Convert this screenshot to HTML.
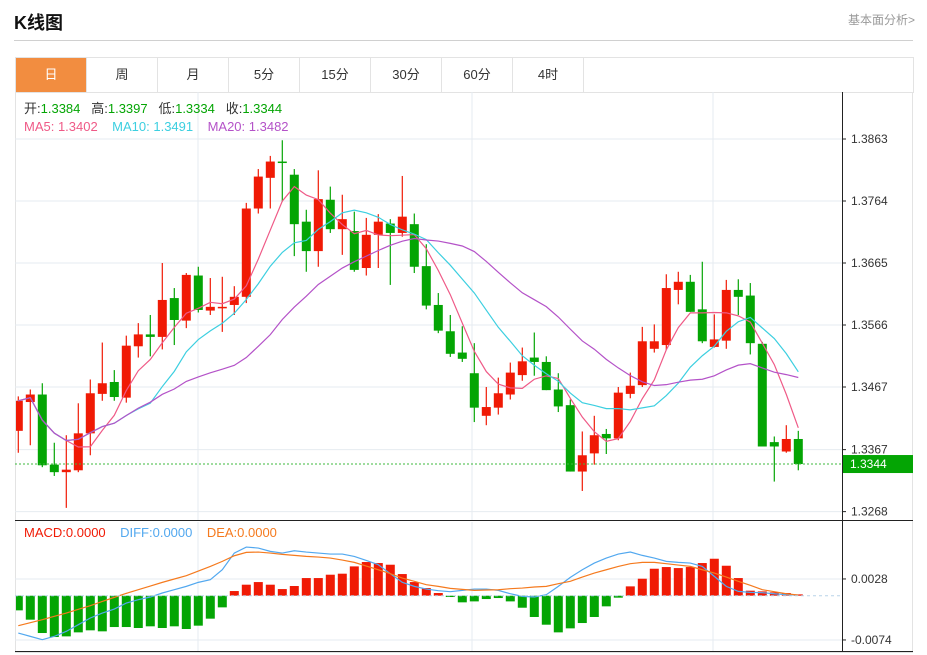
<!DOCTYPE html>
<html><head><meta charset="utf-8"><style>
html,body{margin:0;padding:0;background:#fff;width:927px;height:655px;overflow:hidden;font-family:"Liberation Sans","Noto Sans CJK SC",sans-serif}
.title{position:absolute;left:14px;top:9px;font-size:18px;font-weight:bold;color:#111}
.more{position:absolute;right:12px;top:11px;font-size:12px;color:#999}
.hr{position:absolute;left:14px;top:40px;width:899px;height:1px;background:#d0d0d0}
.tabs{position:absolute;left:15px;top:57px;width:897px;height:34px;border:1px solid #e3e3e3;display:flex}
.tab{width:70px;border-right:1px solid #e3e3e3;text-align:center;line-height:34px;font-size:13px;color:#333}
.tab.on{background:#f28d40;color:#fff}
svg{position:absolute;left:0;top:0}
svg text{white-space:pre}
</style></head><body>
<div class="title">K线图</div>
<div class="more">基本面分析&gt;</div>
<div class="hr"></div>
<div class="tabs">
<div class="tab on">日</div>
<div class="tab">周</div>
<div class="tab">月</div>
<div class="tab">5分</div>
<div class="tab">15分</div>
<div class="tab">30分</div>
<div class="tab">60分</div>
<div class="tab">4时</div>
</div>
<svg id="chart" width="927" height="655"><defs><clipPath id="plotclip"><rect x="16" y="92" width="826" height="560"/></clipPath></defs></svg>
<script>
const opens=[1.3397,1.3443,1.3455,1.3343,1.3331,1.3334,1.3393,1.3456,1.3475,1.3450,1.3532,1.3551,1.3547,1.3609,1.3573,1.3645,1.3589,1.3594,1.3598,1.3611,1.3752,1.3801,1.3827,1.3806,1.3731,1.3684,1.3766,1.3719,1.3716,1.3657,1.3710,1.3728,1.3713,1.3727,1.3660,1.3598,1.3556,1.3522,1.3489,1.3421,1.3434,1.3455,1.3486,1.3514,1.3507,1.3463,1.3438,1.3332,1.3361,1.3392,1.3385,1.3456,1.3470,1.3528,1.3534,1.3622,1.3635,1.3591,1.3531,1.3541,1.3622,1.3613,1.3536,1.3379,1.3364,1.3384];
const highs=[1.3452,1.3463,1.3473,1.3378,1.3390,1.3441,1.3479,1.3538,1.3494,1.3549,1.3569,1.3582,1.3665,1.3625,1.3649,1.3659,1.3641,1.3643,1.3628,1.3761,1.3815,1.3836,1.3861,1.3815,1.3750,1.3813,1.3787,1.3774,1.3747,1.3737,1.3743,1.3735,1.3804,1.3744,1.3695,1.3617,1.3582,1.3564,1.3537,1.3467,1.3482,1.3506,1.3530,1.3554,1.3516,1.3489,1.3447,1.3396,1.3421,1.3400,1.3467,1.3490,1.3563,1.3567,1.3647,1.3651,1.3646,1.3667,1.3583,1.3638,1.3639,1.3633,1.3539,1.3388,1.3406,1.3397];
const lows=[1.3362,1.3374,1.3339,1.3325,1.3274,1.3331,1.3358,1.3445,1.3445,1.3442,1.3514,1.3516,1.3527,1.3534,1.3561,1.3586,1.3582,1.3555,1.3582,1.3601,1.3744,1.3752,1.3763,1.3676,1.3651,1.3659,1.3713,1.3678,1.3651,1.3645,1.3657,1.3630,1.3707,1.3649,1.3591,1.3553,1.3515,1.3507,1.3411,1.3406,1.3423,1.3447,1.3477,1.3485,1.3462,1.3427,1.3332,1.3301,1.3343,1.3360,1.3382,1.3449,1.3467,1.3522,1.3526,1.3599,1.3587,1.3537,1.3530,1.3528,1.3582,1.3519,1.3372,1.3316,1.3362,1.3334];
const closes=[1.3445,1.3455,1.3342,1.3331,1.3335,1.3393,1.3457,1.3473,1.3451,1.3533,1.3551,1.3547,1.3606,1.3574,1.3646,1.3590,1.3595,1.3595,1.3611,1.3752,1.3803,1.3827,1.3826,1.3727,1.3684,1.3767,1.3719,1.3735,1.3654,1.3710,1.3731,1.3713,1.3739,1.3659,1.3597,1.3557,1.3520,1.3512,1.3434,1.3435,1.3457,1.3490,1.3508,1.3507,1.3462,1.3436,1.3332,1.3358,1.3390,1.3385,1.3458,1.3469,1.3540,1.3540,1.3625,1.3635,1.3587,1.3540,1.3543,1.3622,1.3611,1.3537,1.3372,1.3372,1.3384,1.3344];
const priceTicks=[1.3863,1.3764,1.3665,1.3566,1.3467,1.3367,1.3268];
const macdHist=[-24.5,-40.1,-62.4,-69.1,-68,-61.3,-57.9,-59.6,-52.4,-52.4,-54,-51.2,-54,-51.2,-55.7,-50.1,-38.4,-19.5,7.8,18.4,22.8,18.4,11.1,16.2,29.5,29.5,35.1,36.8,49,56.3,54.6,51.8,36.2,22.8,12.8,4.5,-2.2,-11.1,-9.5,-5.6,-3.9,-9.5,-20.1,-35.6,-48.5,-61.3,-54.6,-45.7,-35.6,-17.8,-3.3,15.6,28.4,45.1,47.9,46.2,47.9,54.6,61.8,50.1,29.5,8.4,7.2,5.6,4.5,2.2];
const diffVals=[-62.4,-68,-73.5,-68,-59.6,-48.5,-37.3,-29,-22.3,-12.3,-6.7,-2.2,4.5,10,15.6,22.3,26.7,43.4,71.3,81.3,79.7,74.1,71.3,75.2,73,71.3,69.6,69.6,65.7,59,51.8,36.8,22.3,15.6,11.1,8.4,6.7,8.9,11.1,11.1,8.9,3.3,-1.1,-2.2,1.7,15.6,30.6,43.4,54.6,62.9,69.6,73,67.4,62.9,57.4,55.7,54.6,49,32.3,15.6,7.2,5.6,5,3.3,1.7,1.1];
const deaVals=[-50.1,-45.1,-40.1,-34.5,-29,-22.8,-16.7,-9.5,-2.8,3.9,10,16.2,22.3,27.9,33.4,41.2,49,57.4,66.8,72.4,73,71.3,69.1,67.4,65.7,64.6,62.9,59.6,55.7,49.6,43.4,36.8,29.5,24,18.4,15.6,12.3,10.6,8.9,9.5,10,11.7,12.8,14.5,15.6,20.1,24,31.2,37.9,43.4,49,53.5,55.7,55.7,53.5,51.2,49,43.4,37.9,31.2,24,17.3,10,6.7,3.3,1.1];
const macdTicks=[0.0028,-0.0074];

const NS='http://www.w3.org/2000/svg';
const svg=document.getElementById('chart');
function mk(tag,attrs,parent){const e=document.createElementNS(NS,tag);for(const k in attrs)e.setAttribute(k,attrs[k]);(parent||svg).appendChild(e);return e;}
const xOf=i=>18.3+12*i;
const yP=p=>139+(1.3863-p)/0.0099*62;
const yM=v=>595.7-(v*0.0001)/0.0102*61;
const L=15,R=842;
mk('rect',{x:15.5,y:92.5,width:897,height:560,fill:'none',stroke:'#e3e3e3'});
const grid=mk('g',{stroke:'#e6ebf0','stroke-width':1});


priceTicks.forEach(t=>mk('line',{x1:L,x2:R,y1:yP(t),y2:yP(t)},grid));
[198,472,713].forEach(x=>{mk('line',{x1:x,x2:x,y1:92,y2:520},grid);mk('line',{x1:x,x2:x,y1:522,y2:652},grid);});
macdTicks.forEach(t=>mk('line',{x1:L,x2:R,y1:yM(t*10000),y2:yM(t*10000)},grid));
mk('line',{x1:R+0.5,x2:R+0.5,y1:92,y2:652,stroke:'#222'});
mk('line',{x1:L,x2:913,y1:520.5,y2:520.5,stroke:'#222'});
mk('line',{x1:L,x2:913,y1:651.5,y2:651.5,stroke:'#222'});
const axis=mk('g',{'font-size':12,fill:'#333'});


priceTicks.forEach(t=>{mk('line',{x1:R,x2:R+4,y1:yP(t),y2:yP(t),stroke:'#222'},axis);const tx=mk('text',{x:851,y:yP(t)+4},axis);tx.textContent=t.toFixed(4);});
macdTicks.forEach(t=>{const y=yM(t*10000);mk('line',{x1:R,x2:R+4,y1:y,y2:y,stroke:'#222'},axis);const tx=mk('text',{x:851,y:y+4},axis);tx.textContent=t.toFixed(4);});
const plot=mk('g',{'clip-path':'url(#plotclip)'});
const cg=mk('g',{},plot);


opens.forEach((o,i)=>{
  const c=closes[i],up=c>=o,col=up?'#f01a05':'#04a504',x=xOf(i);
  const g=mk('g',{},cg);
  
  
  mk('line',{x1:x,x2:x,y1:yP(highs[i]),y2:yP(lows[i]),stroke:col,'stroke-width':1.2},g);
  const t=yP(Math.max(o,c)),b=yP(Math.min(o,c));
  mk('rect',{x:x-4.5,y:t,width:9,height:Math.max(1.5,b-t),fill:col},g);
});
function ma(n){return closes.map((_,i)=>{const s=closes.slice(Math.max(0,i-n+1),i+1);return s.reduce((a,b)=>a+b,0)/s.length;});}
[[5,'#ef5a87','ma5-line'],[10,'#3ccfe0','ma10-line'],[20,'#b452c8','ma20-line']].forEach(([n,col,name])=>{
  const p=mk('polyline',{fill:'none',stroke:col,'stroke-width':1.2,points:ma(n).map((v,i)=>xOf(i)+','+yP(v)).join(' ')},plot);
  
  
});
const lp=closes[closes.length-1];
mk('line',{x1:L,x2:R,y1:yP(lp),y2:yP(lp),stroke:'#3cb83c','stroke-dasharray':'2,2'});
const lb=mk('rect',{x:843,y:yP(lp)-9,width:70,height:18,fill:'#04a504'});


const lt=mk('text',{x:850,y:yP(lp)+4,'font-size':12,fill:'#fff'});lt.textContent=lp.toFixed(4);
mk('line',{x1:L,x2:R,y1:yM(0),y2:yM(0),stroke:'#b8d4e8','stroke-dasharray':'3,3'});
const mg=mk('g',{},plot);


macdHist.forEach((v,i)=>{const y0=yM(0),y1=yM(v);const b=mk('rect',{x:xOf(i)-4.5,y:Math.min(y0,y1),width:9,height:Math.max(1,Math.abs(y1-y0)),fill:v>=0?'#f01a05':'#04a504'},mg);

});
[[diffVals,'#52a8ef','diff-line'],[deaVals,'#f57a1e','dea-line']].forEach(([arr,col,name])=>{
  const p=mk('polyline',{fill:'none',stroke:col,'stroke-width':1.2,points:arr.map((v,i)=>xOf(i)+','+yM(v)).join(' ')},plot);
  
  
});
function txt(x,y,parts,name){const t=mk('text',{x:x,y:y,'font-size':13});parts.forEach(([s,c])=>{const sp=mk('tspan',{fill:c},t);sp.textContent=s;});}
txt(24,113,[['开:','#333'],['1.3384   ','#04a504'],['高:','#333'],['1.3397   ','#04a504'],['低:','#333'],['1.3334   ','#04a504'],['收:','#333'],['1.3344','#04a504']],'ohlc-legend');
txt(24,131,[['MA5: 1.3402    ','#ef5a87'],['MA10: 1.3491    ','#3ccfe0'],['MA20: 1.3482','#b452c8']],'ma-legend');
txt(24,537,[['MACD:0.0000    ','#f01a05'],['DIFF:0.0000    ','#52a8ef'],['DEA:0.0000','#f57a1e']],'macd-legend');
</script>
</body></html>
